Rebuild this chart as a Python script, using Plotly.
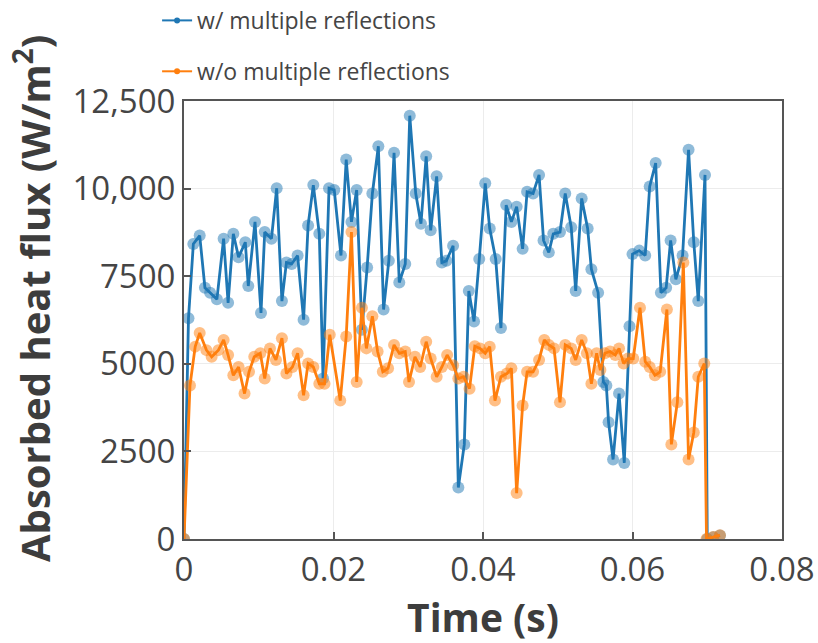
import plotly.graph_objects as go

# ---- data ----
t_with = [0, 0.0006, 0.00125, 0.0021, 0.0028, 0.0035, 0.0044, 0.0053, 0.0059, 0.0066,
          0.0073, 0.0082, 0.0086, 0.0095, 0.0103, 0.0108, 0.0117, 0.0124, 0.0131, 0.0137,
          0.0144, 0.0152, 0.0160, 0.0166, 0.0173, 0.0181, 0.0186, 0.0194, 0.0201, 0.0210,
          0.0217, 0.0224, 0.0231, 0.0238, 0.0245, 0.0252, 0.0260, 0.0267, 0.0274, 0.0281,
          0.0288, 0.0296, 0.0302, 0.0310, 0.0317, 0.0324, 0.0330, 0.0338, 0.0345, 0.0351,
          0.0360, 0.0367, 0.0375, 0.0381, 0.0388, 0.0395, 0.0403, 0.0409, 0.0417, 0.0424,
          0.0431, 0.0438, 0.0445, 0.0453, 0.0459, 0.0467, 0.0475, 0.0481, 0.0488, 0.0494,
          0.0503, 0.0510, 0.0518, 0.0524, 0.0532, 0.0540, 0.0545, 0.0554, 0.0561, 0.0565,
          0.0568, 0.0574, 0.0582, 0.0589, 0.0596, 0.0600, 0.0609, 0.0617, 0.0623, 0.0631,
          0.0638, 0.0645, 0.0651, 0.0658, 0.0667, 0.0675, 0.0682, 0.0688, 0.0697, 0.0700,
          0.0708, 0.0717]
q_with = [0, 6300, 8420, 8660, 7170, 7030, 6840, 8570, 6740, 8710,
          8040, 8470, 7220, 9050, 6450, 8760, 8570, 10010, 6790, 7890,
          7850, 8090, 6260, 8950, 10100, 8710, 4580, 10010, 9960, 8090,
          10830, 9050, 9960, 5970, 7750, 9860, 11210, 6550, 7940, 11020,
          7320, 7850, 12080, 9860, 9000, 10920, 8810, 10350, 7890, 7940,
          8370, 1470, 2700, 7080, 6210, 7990, 10150, 8860, 7990, 6020,
          9530, 9050, 9480, 8280, 9910, 9860, 10390, 8520, 8180, 8710,
          8760, 9860, 8900, 7080, 9720, 8860, 7700, 7030, 4480, 4380,
          3330, 2270, 4150, 2170, 6070, 8130, 8230, 8090, 10060, 10730,
          7030, 7170, 8520, 7410, 8090, 11110, 8470, 6790, 10390, 0,
          50, 100]

t_without = [0, 0.0008, 0.0015, 0.0021, 0.0030, 0.0037, 0.0046, 0.0053, 0.0059, 0.0066,
             0.0073, 0.0081, 0.0087, 0.0094, 0.0102, 0.0108, 0.0115, 0.0123, 0.0131, 0.0137,
             0.0145, 0.0152, 0.0160, 0.0166, 0.0173, 0.0181, 0.0188, 0.0195, 0.0209, 0.0217,
             0.0224, 0.0231, 0.0238, 0.0244, 0.0252, 0.0259, 0.0266, 0.0273, 0.0281, 0.0288,
             0.0296, 0.0301, 0.0309, 0.0316, 0.0324, 0.0330, 0.0338, 0.0345, 0.0352, 0.0360,
             0.0367, 0.0374, 0.0382, 0.0389, 0.0396, 0.0403, 0.0409, 0.0416, 0.0424, 0.0432,
             0.0438, 0.0445, 0.0453, 0.0459, 0.0467, 0.0475, 0.0482, 0.0488, 0.0495, 0.0503,
             0.0510, 0.0518, 0.0524, 0.0532, 0.0539, 0.0545, 0.0552, 0.0557, 0.0563, 0.0570,
             0.0577, 0.0582, 0.0588, 0.0594, 0.0601, 0.0610, 0.0617, 0.0623, 0.0630, 0.0637,
             0.0646, 0.0652, 0.0660, 0.0668, 0.0675, 0.0682, 0.0688, 0.0696, 0.0699, 0.0708,
             0.0717]
q_without = [0, 4380, 5490, 5880, 5390, 5200, 5390, 5680, 5250, 4670,
             4910, 4150, 4770, 5200, 5300, 4580, 5440, 5110, 5730, 4720,
             4910, 5300, 4100, 5010, 4910, 4430, 4430, 5830, 3950, 5780,
             8760, 4480, 6600, 5440, 6360, 5350, 4770, 4870, 5540, 5300,
             5350, 4480, 5200, 4910, 5630, 5150, 4630, 4910, 5250, 4960,
             4580, 4630, 4290, 5500, 5440, 5300, 5490, 3950, 4630, 4720,
             4870, 1310, 3810, 4770, 4770, 5110, 5680, 5540, 5440, 3900,
             5540, 5440, 5110, 5680, 5300, 4430, 5300, 4820, 5300, 5350,
             5250, 5440, 5010, 5150, 5150, 6600, 5060, 4910, 4670, 4770,
             6550, 2700, 3900, 7890, 2270, 3040, 4630, 5010, 0, 60,
             110]

series_names = ["w/ multiple reflections", "w/o multiple reflections"]
colors = ["#1f77b4", "#ff7f0e"]

x_tickvals = [0, 0.02, 0.04, 0.06, 0.08]
x_ticktext = ["0", "0.02", "0.04", "0.06", "0.08"]
y_tickvals = [0, 2500, 5000, 7500, 10000, 12500]
y_ticktext = ["0", "2500", "5000", "7500", "10,000", "12,500"]

x_title = "<b>Time (s)</b>"
y_title = "<b>Absorbed heat flux (W/m<sup>2</sup>)</b>"

FONT = "Open Sans"
TXT = "#454545"
TITLE_C = "#3d3d3d"

fig = go.Figure()

# main data traces (orange drawn on top)
for t, q, c in [(t_with, q_with, colors[0]), (t_without, q_without, colors[1])]:
    fig.add_trace(go.Scatter(
        x=t, y=q, mode="lines+markers",
        line=dict(color=c, width=2.8),
        marker=dict(color=c, size=12, opacity=0.5),
        showlegend=False, hoverinfo="skip"))

# legend-only entries with small markers
for i, (name, c) in enumerate(zip(series_names, colors)):
    fig.add_trace(go.Scatter(
        x=[None], y=[None], mode="lines+markers", name=name,
        line=dict(color=c, width=2),
        marker=dict(color=c, size=6),
        legendgroup="g%d" % i, showlegend=True))

axis_common = dict(
    showline=True, linecolor="#555555", linewidth=2, mirror=True,
    ticks="inside", ticklen=7, tickwidth=2, tickcolor="#555555",
    showgrid=True, gridcolor="#ececec", gridwidth=1,
    zeroline=False, automargin=False,
    tickfont=dict(family=FONT, size=33, color=TXT),
)

fig.update_xaxes(
    range=[0, 0.08], tickvals=x_tickvals, ticktext=x_ticktext,
    title=dict(text=x_title, font=dict(family=FONT, size=39, color=TITLE_C),
               standoff=4),
    **axis_common)
fig.update_yaxes(
    range=[0, 12500], tickvals=y_tickvals, ticktext=y_ticktext,
    **axis_common)

# y-axis title as a rotated annotation (placed slightly above the plot centre, as in the reference)
fig.add_annotation(
    text=y_title, textangle=-90, showarrow=False,
    xref="paper", yref="paper", x=-0.2525, y=0.548,
    xanchor="center", yanchor="middle",
    font=dict(family=FONT, size=40, color=TITLE_C))

fig.update_layout(
    width=818, height=643,
    margin=dict(l=184, r=36, t=101, b=104, autoexpand=False),
    plot_bgcolor="white", paper_bgcolor="white",
    font=dict(family=FONT, color=TXT),
    legend=dict(
        orientation="v",
        x=-0.045, xanchor="left", y=1.233, yanchor="top",
        font=dict(family=FONT, size=23, color=TXT),
        bgcolor="rgba(0,0,0,0)", tracegroupgap=18, traceorder="grouped",
    ),
)

fig.write_html("out.html")
